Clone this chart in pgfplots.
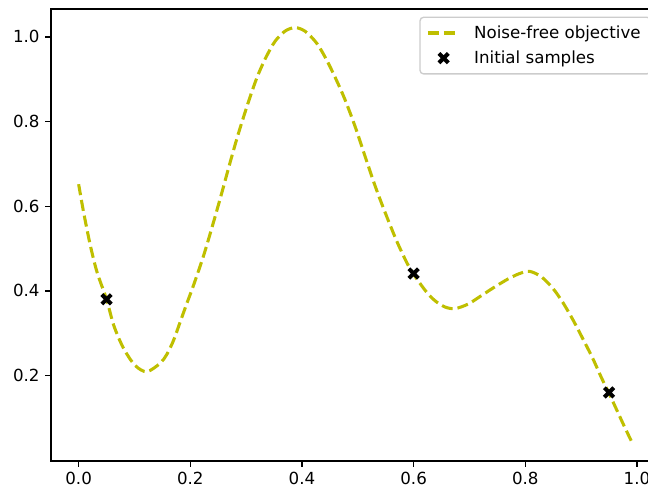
\documentclass[border=0pt]{standalone}
\usepackage{fontspec}
\setmainfont{DejaVu Sans}
\usepackage{pgfplots}
\pgfplotsset{compat=1.18}
\definecolor{my}{rgb}{0.75,0.75,0}
\pgfdeclareplotmark{Xf}{%
  \pgftransformrotate{45}%
  \pgfpathrectangle{\pgfpoint{-\pgfplotmarksize}{-0.3\pgfplotmarksize}}{\pgfpoint{2\pgfplotmarksize}{0.6\pgfplotmarksize}}%
  \pgfpathrectangle{\pgfpoint{-0.3\pgfplotmarksize}{-\pgfplotmarksize}}{\pgfpoint{0.6\pgfplotmarksize}{2\pgfplotmarksize}}%
  \pgfusepathqfill}
\pgfplotsset{
  lineleg/.style={legend image code/.code={\draw[##1] (0cm,0cm) -- (0.8cm,0cm);}},
  markleg/.style={legend image code/.code={\draw[mark repeat=2,mark phase=2,##1] plot coordinates {(0cm,0cm) (0.4cm,0cm) (0.8cm,0cm)};}},
}
\begin{document}
\begin{tikzpicture}
\begin{axis}[
  scale only axis,
  width=437.76pt, height=325.44pt,
  xmin=-0.0495, xmax=1.0395,
  ymin=-0.002, ymax=1.066,
  axis line style={line width=0.96pt, black},
  every tick/.style={black, line width=0.96pt},
  major tick length=4.2pt,
  tick align=outside,
  xtick pos=bottom, ytick pos=left,
  xtick={0,0.2,0.4,0.6,0.8,1.0},
  ytick={0.2,0.4,0.6,0.8,1.0},
  /pgf/number format/assume math mode=true,
  /pgf/number format/.cd, fixed, fixed zerofill, precision=1, /pgfplots/.cd,
  tick label style={font=\fontsize{12}{14}\selectfont, text=black},
  xticklabel style={yshift=-0.5pt},
  yticklabel style={xshift=-0.5pt},
  legend style={at={(1,1)}, anchor=north east, xshift=-5.7pt, yshift=-5.5pt,
    font=\fontsize{12}{14}\selectfont, draw=black!20, line width=0.96pt,
    rounded corners=2.5pt, fill=white,
    inner xsep=4.5pt, inner ysep=3.5pt, row sep=2.5pt,
    nodes={inner sep=2.5pt, text=black},
    /tikz/every odd column/.append style={column sep=7pt}},
  legend cell align=left,
  clip=false,
]
\coordinate (sw) at (rel axis cs:0,0);
\addplot[color=my, line width=2.2pt, dash pattern=on 8pt off 3.5pt, smooth, tension=0.5, lineleg] coordinates {
(0.000,0.652) (0.009,0.585) (0.021,0.507) (0.033,0.444) (0.050,0.380)
(0.063,0.318) (0.0805,0.264) (0.101,0.224) (0.122,0.209) (0.146,0.229)
(0.158,0.250) (0.170,0.283) (0.182,0.327) (0.194,0.371) (0.206,0.414)
(0.224,0.484) (0.2415,0.562)
(0.2565,0.632) (0.271,0.702) (0.286,0.771) (0.304,0.846) (0.320,0.906)
(0.336,0.953) (0.352,0.990) (0.370,1.014) (0.388,1.022) (0.406,1.013)
(0.4265,0.985) (0.444,0.946) (0.461,0.900) (0.477,0.852) (0.495,0.789)
(0.513,0.718) (0.531,0.648) (0.549,0.585) (0.5696,0.518) (0.5875,0.4675)
(0.600,0.439) (0.622,0.399) (0.638,0.377) (0.656,0.362) (0.674,0.358)
(0.698,0.369) (0.7216,0.389) (0.745,0.409) (0.769,0.428) (0.790,0.441)
(0.808,0.446) (0.829,0.433) (0.850,0.405) (0.868,0.371) (0.886,0.330)
(0.903,0.287) (0.921,0.240) (0.936,0.196) (0.950,0.158) (0.964,0.118)
(0.978,0.078) (0.990,0.045)
};
\addlegendentry{Noise-free objective}
\addplot[only marks, mark=Xf, mark size=4.8pt, black, markleg] coordinates {
(0.05,0.380) (0.60,0.441) (0.95,0.160)
};
\addlegendentry{Initial samples}
\end{axis}
\pgfresetboundingbox
\path[use as bounding box] ([xshift=-36.72pt, yshift=-20.16pt]sw) rectangle ++(466.56pt,352.08pt);
\end{tikzpicture}
\end{document}
